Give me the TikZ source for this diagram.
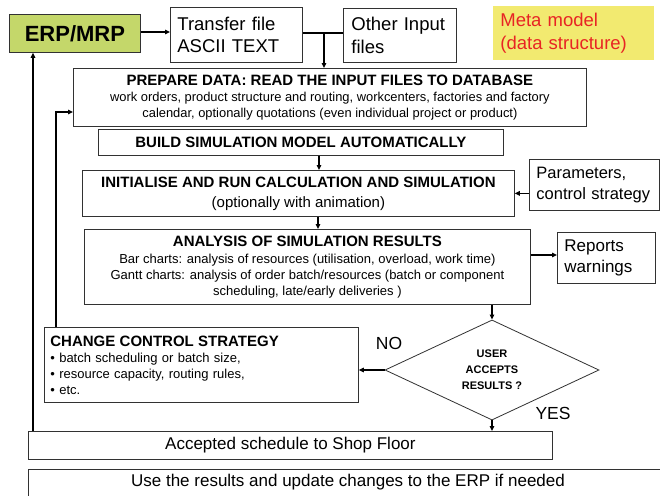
\documentclass[tikz,border=0pt]{standalone}
\usepackage{fontspec}
\setmainfont{Liberation Sans}
\usetikzlibrary{arrows.meta,shapes.geometric,calc}
\definecolor{erpgreen}{RGB}{196,215,106}
\definecolor{metayellow}{RGB}{242,234,112}
\definecolor{metared}{RGB}{232,36,36}
\definecolor{boxline}{RGB}{50,50,50}
\tikzset{
  box/.style={draw=boxline, line width=0.8pt, fill=white, inner sep=0pt, anchor=north west},
  lbox/.style={box, align=left},
  conn/.style={line width=1.4pt, -{Triangle[length=5pt,width=4.5pt]}},
  plain/.style={line width=1.4pt},
}
\newcommand{\fsz}[2]{\fontsize{#1}{#2}\selectfont}
\begin{document}
\begin{tikzpicture}[x=1pt,y=-1pt]
\fill[white] (0,0) rectangle (660,495);
\useasboundingbox (0,0) rectangle (660,495);

\node[box, fill=erpgreen, minimum width=131, minimum height=38, font=\fsz{22}{26}\bfseries] (erp) at (9,14) {ERP/MRP};
\node[lbox, minimum width=132, minimum height=55, text width=118, inner xsep=7, font=\fsz{18.5}{22.5}] (transfer) at (170,7) {Transfer file\\ASCII TEXT};
\node[lbox, minimum width=113, minimum height=54, text width=97, inner xsep=8, font=\fsz{18.5}{22.5}] (other) at (343,8) {Other Input\\files};
\node[lbox, draw=none, fill=metayellow, text=metared, minimum width=161, minimum height=54, text width=147, inner xsep=7, font=\fsz{18.5}{22.5}] (meta) at (493,6) {Meta model\\(data structure)};

\node[box, align=center, minimum width=513, minimum height=58, font=\fsz{12.9}{16}] (prep) at (73,68)
  {{\fsz{15}{17}\bfseries PREPARE DATA: READ THE INPUT FILES TO DATABASE}\\
   work orders, product structure and routing, workcenters, factories and factory\\
   calendar, optionally quotations (even individual project or product)};
\node[box, minimum width=405, minimum height=26, font=\fsz{15}{17}\bfseries] (build) at (98,129) {BUILD SIMULATION MODEL AUTOMATICALLY};
\node[box, align=center, minimum width=432, minimum height=46, font=\fsz{15}{20}] (init) at (82,170)
  {{\bfseries INITIALISE AND RUN CALCULATION AND SIMULATION}\\(optionally with animation)};
\node[lbox, minimum width=130, minimum height=51, text width=124, inner xsep=3, font=\fsz{16.5}{21}] (param) at (529,159) {\hspace*{4pt}Parameters,\\\hspace*{4pt}control strategy};

\node[box, align=center, minimum width=446, minimum height=75, font=\fsz{13}{16}] (ana) at (84,229)
  {{\fsz{15}{17}\bfseries ANALYSIS OF SIMULATION RESULTS}\\[1pt]
   Bar charts: analysis of resources (utilisation, overload, work time)\\
   Gantt charts: analysis of order batch/resources (batch or component\\
   scheduling, late/early deliveries )};
\node[lbox, minimum width=98, minimum height=51, text width=84, inner xsep=7, font=\fsz{17}{21}] (rep) at (557,232) {Reports\\warnings};

\node[draw=boxline, line width=0.8pt, fill=white, shape=diamond, inner sep=0pt, minimum width=214, minimum height=94, align=center, font=\fsz{11}{16}\bfseries] (dia) at (492,370) {USER\\ACCEPTS\\RESULTS ?};

\node[lbox, minimum width=314, minimum height=75, text width=302, inner xsep=6, font=\fsz{13}{16}] (chg) at (44,327)
  {{\fsz{15}{17}\bfseries CHANGE CONTROL STRATEGY}\\
   • batch scheduling or batch size,\\
   • resource capacity, routing rules,\\
   • etc.};

\node[box, minimum width=524, minimum height=28, font=\fsz{17}{20}] (acc) at (28,431) {Accepted schedule to Shop Floor};
\node[box, minimum width=650, minimum height=40] (usebox) at (28,469) {};
\node[font=\fsz{17}{20}, inner sep=0pt] (usetxt) at (348,482) {Use the results and update changes to the ERP if needed};

\node[font=\fsz{17.5}{20}, inner sep=0pt] (yes) at (553,413) {YES};
\node[font=\fsz{17.5}{20}, inner sep=0pt] (no) at (389,343) {NO};

% connectors
\draw[conn] (erp.east |- 0,32) -- (transfer.west |- 0,32);
\coordinate (j) at (324,33);
\draw[plain] (transfer.east |- j) -- (other.west |- j);
\draw[conn] (j) -- (j |- prep.north);
\coordinate (ax) at (319,0);
\draw[conn] (build.south -| ax) -- (init.north -| ax);
\draw[conn] (param.west |- init.east) -- (init.east);
\coordinate (bx) at (318,0);
\draw[conn] (init.south -| bx) -- (ana.north -| bx);
\coordinate (ry) at (0,255);
\draw[conn] (ana.east |- ry) -- (rep.west |- ry);
\draw[conn] (ana.south -| dia.north) -- (dia.north);
\draw[conn] (dia.west) -- (dia.west -| chg.east);
\draw[conn] (dia.south) -- (dia.south |- acc.north);
\coordinate (cx) at (56,112);
\draw[conn] (chg.north -| cx) -- (cx) -- (cx -| prep.west);
\coordinate (ex) at (33,0);
\draw[conn] (acc.north -| ex) -- (erp.south -| ex);
\end{tikzpicture}
\end{document}
